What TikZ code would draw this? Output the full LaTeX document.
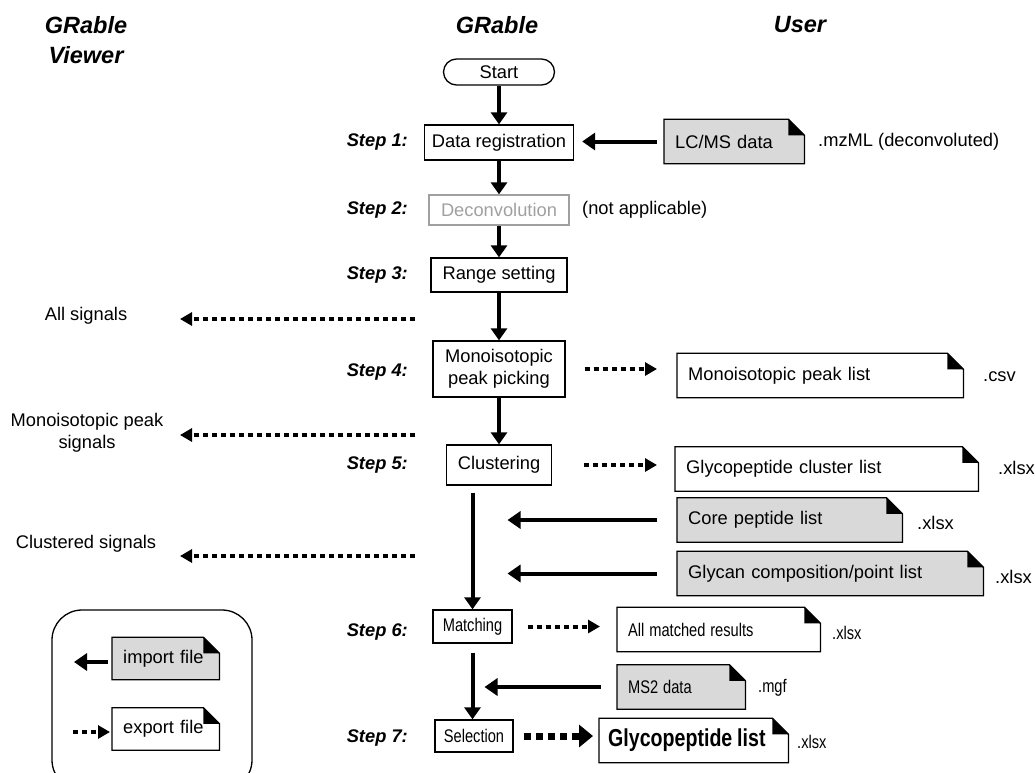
\documentclass[tikz,border=0pt]{standalone}
\usepackage{fontspec}
\setmainfont{Liberation Sans}
\usetikzlibrary{arrows.meta, positioning, backgrounds}
\definecolor{filegray}{RGB}{217,217,217}
\definecolor{offgray}{RGB}{160,160,160}
\newcommand\txtfont{\fontsize{18.3}{22}\selectfont}
\newcommand\headfont{\bfseries\itshape\fontsize{23.5}{30}\selectfont}
\newcommand\squeeze[1]{\scalebox{0.8}[1]{#1}}
\tikzset{
  procbox/.style     = {draw, line width=1.3pt, inner sep=0pt, align=center},
  filebox/.style     = {anchor=west, minimum height=44pt, inner xsep=11pt,
                        inner ysep=0pt, text width=#1, align=left},
  ext/.style         = {anchor=west, inner sep=0pt},
  steplabel/.style   = {anchor=east, inner sep=0pt, font=\txtfont\bfseries\itshape},
  flowarrow/.style   = {line width=4pt, -{Triangle[length=12pt, width=16pt]}},
  importarrow/.style = {line width=4pt, -{Triangle[length=13pt, width=17pt]}},
  exportarrow/.style = {line width=4pt, dash pattern=on 5pt off 4pt,
                        -{Triangle[length=12pt, width=13pt]}},
  bigexport/.style   = {line width=7pt, dash pattern=on 7pt off 5pt,
                        -{Triangle[length=14pt, width=22pt]}},
}

\begin{document}
\begin{tikzpicture}[x=1pt, y=-1pt, every node/.style={font=\txtfont}]
  \useasboundingbox (0,0) rectangle (1035,772);

  % column headers
  \node[font=\headfont, align=center] (hviewer) at (86,40) {GRable\\Viewer};
  \node[font=\headfont] (hgrable) at (497,25) {GRable};
  \node[font=\headfont] (huser) at (800,25) {User};

  % GRable steps
  \node[procbox, rounded corners=13pt, minimum width=111pt, minimum height=26pt] (start) at (499,72) {Start};
  \node[procbox, minimum width=149pt, minimum height=35pt] (datareg) at (499,142.5) {Data registration};
  \node[procbox, draw=offgray, text=offgray, minimum width=140pt, minimum height=30pt] (deconv) at (499,210) {Deconvolution};
  \node[procbox, minimum width=136pt, minimum height=34pt] (range) at (499,275) {Range setting};
  \node[procbox, minimum width=132pt, minimum height=56pt] (mono) at (499,369) {Monoisotopic\\peak picking};
  \node[procbox, minimum width=105pt, minimum height=40pt] (cluster) at (499,465) {Clustering};
  \node[procbox, minimum width=79pt, minimum height=33pt] (match) at (472.5,626.5) {\squeeze{Matching}};
  \node[procbox, minimum width=78pt, minimum height=32pt] (select) at (474,736) {\squeeze{Selection}};
  \node[ext] (notappl) at (582,210) {(not applicable)};

  \foreach \n/\y in {1/142,2/210,3/275,4/372,5/465,6/632,7/738}
    \node[steplabel] (step\n) at (408,\y) {Step \n:};

  % user files
  \node[filebox=118pt] (lcms) at (664,141.5) {LC/MS data};
  \node[ext] (lcmsext) at (818,142) {.mzML (deconvoluted)};
  \node[filebox=264pt] (monolist) at (677,375.5) {Monoisotopic peak list};
  \node[ext] (monoext) at (983,377) {.csv};
  \node[filebox=281pt] (clusterlist) at (675,469) {Glycopeptide cluster list};
  \node[ext] (clusterext) at (998,468) {.xlsx};
  \node[filebox=203pt] (corelist) at (677,520) {Core peptide list};
  \node[ext] (coreext) at (917,523) {.xlsx};
  \node[filebox=284pt] (glycanlist) at (677,573.5) {Glycan composition/point list};
  \node[ext] (glycanext) at (995,577) {.xlsx};
  \node[filebox=181pt] (allmatched) at (617,629.5) {\squeeze{All matched results}};
  \node[ext] (allext) at (832,633) {\squeeze{.xlsx}};
  \node[filebox=106pt] (ms2) at (617,687) {\squeeze{MS2 data}};
  \node[ext] (ms2ext) at (758,688) {\squeeze{.mgf}};
  \node[filebox=171pt, inner xsep=9pt] (glycolist) at (599,740.5)
    {\squeeze{\bfseries\fontsize{24.5}{28}\selectfont Glycopeptide list}};
  \node[ext] (glycoext) at (797,742) {\squeeze{.xlsx}};

  % viewer signals
  \node (allsig) at (86,316) {All signals};
  \node[align=center] (monosig) at (87,433) {Monoisotopic peak\\signals};
  \node (clustsig) at (86,544) {Clustered signals};
  \coordinate (sigA) at (415,319);  \coordinate (sigAtip) at (180,319);
  \coordinate (sigB) at (415,435);  \coordinate (sigBtip) at (180,435);
  \coordinate (sigC) at (415,556);  \coordinate (sigCtip) at (180,556);

  % legend
  \draw[line width=1.3pt, rounded corners=30pt] (52,610) rectangle (252,790);
  \node[filebox=85pt, minimum height=42pt] (limp) at (112,658.5) {import file};
  \node[filebox=85pt, minimum height=42pt] (lexp) at (112,729) {export file};
  \coordinate (limpend) at (74,662);
  \coordinate (lexpstart) at (73,732);

  % file outlines with folded corner
  \begin{scope}[on background layer]
    \foreach \f/\c in {lcms/filegray, monolist/white, clusterlist/white, corelist/filegray,
                       glycanlist/filegray, allmatched/white, ms2/filegray, glycolist/white,
                       limp/filegray, lexp/white} {
      \filldraw[fill=\c, line width=1.3pt] (\f.north west) -- ([xshift=-16pt]\f.north east)
        -- ([yshift=-16pt]\f.north east) -- (\f.south east) -- (\f.south west) -- cycle;
      \fill ([xshift=-16pt]\f.north east) -- ([xshift=-16pt, yshift=-16pt]\f.north east)
        -- ([yshift=-16pt]\f.north east) -- cycle;
    }
  \end{scope}

  % flow
  \draw[flowarrow] (start) -- (datareg);
  \draw[flowarrow] (datareg) -- (deconv);
  \draw[flowarrow] (deconv) -- (range);
  \draw[flowarrow] (range) -- (mono);
  \draw[flowarrow] (mono) -- (cluster);
  \draw[flowarrow, shorten <=7pt] (cluster.south -| match.north) -- (match.north);
  \draw[flowarrow, shorten <=9pt] (match.south) -- (match.south |- select.north);

  % imports
  \draw[importarrow, shorten <=7pt, shorten >=8pt] (lcms.west) -- (lcms.west -| datareg.east);
  \draw[importarrow, shorten <=20pt, shorten >=35pt] (corelist.west) -- (corelist.west -| match.north);
  \draw[importarrow, shorten <=20pt, shorten >=35pt] (glycanlist.west) -- (glycanlist.west -| match.north);
  \draw[importarrow, shorten <=16pt, shorten >=12pt] (ms2.west) -- (ms2.west -| match.north);
  \draw[importarrow, shorten <=4pt] (limp.west |- limpend) -- (limpend);

  % exports
  \draw[exportarrow, shorten <=19pt, shorten >=20pt] (mono.east) -- (mono.east -| monolist.west);
  \draw[exportarrow, shorten <=32pt, shorten >=18pt] (cluster.east) -- (cluster.east -| clusterlist.west);
  \draw[exportarrow, shorten <=15pt, shorten >=17pt] (match.east) -- (match.east -| allmatched.west);
  \draw[bigexport, shorten <=10pt, shorten >=6pt] (select.east) -- (select.east -| glycolist.west);
  \draw[exportarrow] (sigA) -- (sigAtip);
  \draw[exportarrow] (sigB) -- (sigBtip);
  \draw[exportarrow] (sigC) -- (sigCtip);
  \draw[exportarrow, shorten >=2pt] (lexpstart) -- (lexpstart -| lexp.west);
\end{tikzpicture}
\end{document}
